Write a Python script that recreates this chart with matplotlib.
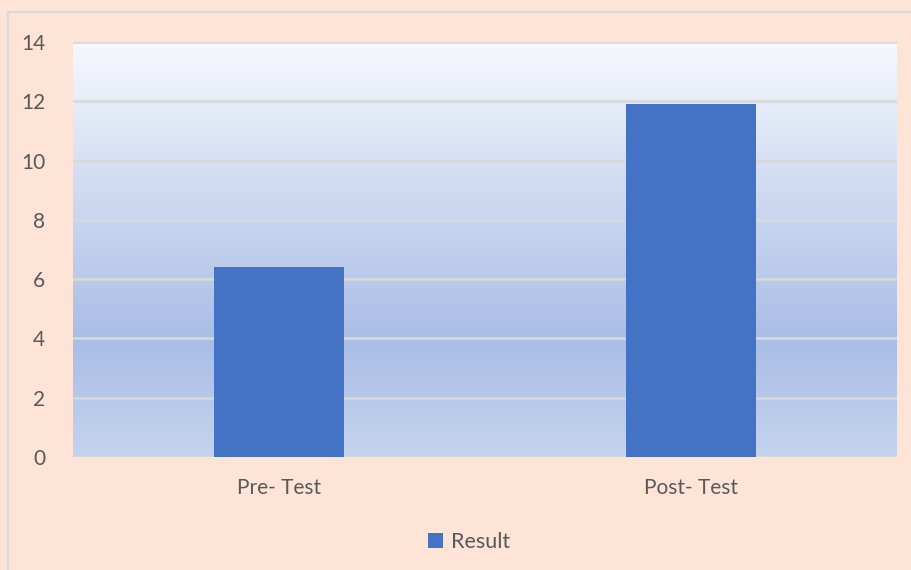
import numpy as np
import matplotlib.pyplot as plt
from matplotlib.colors import LinearSegmentedColormap
from matplotlib.lines import Line2D

categories = ['Pre- Test', 'Post- Test']
result = [6.4, 11.9]
yticks = [0, 2, 4, 6, 8, 10, 12, 14]

plt.rcParams['font.family'] = ['Lato', 'DejaVu Sans']
bg = '#fde4d6'
text_col = '#595959'
grid_col = '#d9d9d9'

fig = plt.figure(figsize=(9.11, 5.70), dpi=100, facecolor=bg)
ax = fig.add_axes([73/911, 1 - 457/570, 824/911, 415/570])

x = np.arange(len(categories))
ax.set_xlim(-0.5, 1.5)
ax.set_ylim(0, 14)

# gradient fill of the plot area (light at top, deeper blue lower down)
cmap = LinearSegmentedColormap.from_list('grad', [
    (0.0, '#c5d4ee'), (0.28, '#a9bde5'), (1.0, '#f6f8fd')])
grad = np.linspace(0, 1, 256).reshape(-1, 1)
ax.imshow(grad, cmap=cmap, aspect='auto', origin='lower',
          extent=[-0.5, 1.5, 0, 14], zorder=0)

for t in yticks:
    ax.axhline(t, color=grid_col, lw=1.8, zorder=1)

ax.bar(x, result, width=0.315, color='#4472c4', zorder=3, label='Result')

ax.set_xticks(x)
ax.set_xticklabels(categories)
ax.set_yticks(yticks)
ax.tick_params(axis='both', length=0, colors=text_col, labelsize=15)
ax.tick_params(axis='x', pad=15)
ax.tick_params(axis='y', pad=20)
for s in ax.spines.values():
    s.set_visible(False)

# outer chart frame
fig.add_artist(Line2D([8/911, 8/911], [0, 1 - 12/570], color=grid_col, lw=1.5,
                      transform=fig.transFigure))
fig.add_artist(Line2D([8/911, 1], [1 - 12/570, 1 - 12/570], color=grid_col, lw=1.5,
                      transform=fig.transFigure))

leg = fig.legend(loc='center', bbox_to_anchor=(0.515, 1 - 542/570), frameon=False,
                 fontsize=15.5, handlelength=0.7, handleheight=0.7, handletextpad=0.35)
for t in leg.get_texts():
    t.set_color(text_col)

fig.savefig('out.png', dpi=100, facecolor=bg)
